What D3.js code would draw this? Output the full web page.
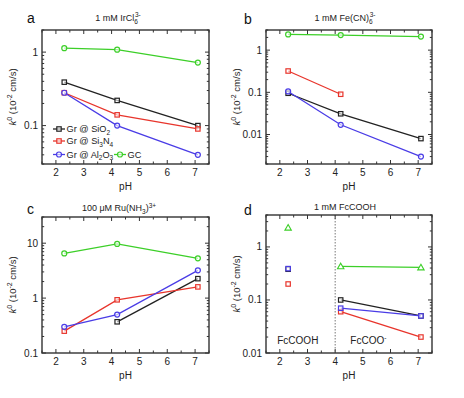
<!DOCTYPE html>
<html><head><meta charset="utf-8">
<script src="https://cdn.jsdelivr.net/npm/d3@7"></script>
<style>
body{margin:0;background:#fff;}
svg{font-family:"Liberation Sans",Arial,sans-serif;}
</style></head>
<body><svg id="c" width="464" height="398"></svg>
<script>
// ---- data ----
const pH = [2.3, 4.2, 7.1];
const seriesNames = ["Gr @ SiO2", "Gr @ Si3N4", "Gr @ Al2O3", "GC"];
const colors = ["#222222", "#e8352c", "#4a3ce6", "#3ccf28"];

// Panel a: 1 mM IrCl6 3-
const aSiO2 = [0.39, 0.22, 0.10];
const aSi3N4 = [0.28, 0.14, 0.09];
const aAl2O3 = [0.28, 0.10, 0.04];
const aGC = [1.13, 1.08, 0.72];
// Panel b: 1 mM Fe(CN)6 3-
const bSiO2 = [0.095, 0.031, 0.008];
const bSi3N4 = [0.32, 0.09, null];
const bAl2O3 = [0.105, 0.017, 0.003];
const bGC = [2.35, 2.27, 2.1];
// Panel c: 100 uM Ru(NH3)3+
const cSiO2 = [null, 0.37, 2.26];
const cSi3N4 = [0.25, 0.93, 1.6];
const cAl2O3 = [0.30, 0.50, 3.2];
const cGC = [6.5, 9.7, 5.3];
// Panel d: 1 mM FcCOOH (pH 2.3 unconnected)
const dSiO2 = [0.38, 0.10, 0.05];
const dSi3N4 = [0.20, 0.06, 0.02];
const dAl2O3 = [0.39, 0.07, 0.05];
const dGC = [2.3, 0.43, 0.41];

const xTicks = [2, 3, 4, 5, 6, 7];

const svg = d3.select("#c");

const panels = [
  {letter:"a", box:[42,209,30,164], ydom:[0.03,2], yticks:[0.1,1], title:["1 mM IrCl","6","3-",""], tx:118, ty:21, lx:27, ly:23,
   data:[aSiO2,aSi3N4,aAl2O3,aGC], shapes:["sq","sq","ci","ci"]},
  {letter:"b", box:[266,432,30,164], ydom:[0.002,3], yticks:[0.01,0.1,1], title:["1 mM Fe(CN)","6","3-",""], tx:345, ty:21, lx:244, ly:24,
   data:[bSiO2,bSi3N4,bAl2O3,bGC], shapes:["sq","sq","ci","ci"]},
  {letter:"c", box:[42,209,217,353], ydom:[0.1,30], yticks:[0.1,1,10], title:["100 μM Ru(NH","3",")","3+"], tx:119, ty:211, lx:27, ly:214,
   data:[cSiO2,cSi3N4,cAl2O3,cGC], shapes:["sq","sq","ci","ci"]},
  {letter:"d", box:[266,432,215,353], ydom:[0.01,4], yticks:[0.01,0.1,1], title:["1 mM FcCOOH","","",""], tx:345, ty:210, lx:244, ly:215,
   data:[dSiO2,dSi3N4,dAl2O3,dGC], shapes:["sq","sq","sq","tri"], split:true}
];

function marker(g, shape, x, y, col){
  if(shape==="sq"){
    g.append("rect").attr("x",x-2.2).attr("y",y-2.2).attr("width",4.4).attr("height",4.4)
      .attr("fill","#fff").attr("fill-opacity",0.6).attr("stroke",col).attr("stroke-width",1.2);
  } else if(shape==="ci"){
    g.append("circle").attr("cx",x).attr("cy",y).attr("r",2.5)
      .attr("fill","#fff").attr("fill-opacity",0.6).attr("stroke",col).attr("stroke-width",1.2);
  } else {
    const s=3.2;
    g.append("path").attr("d",`M${x},${y-s}L${x+s},${y+s*0.75}L${x-s},${y+s*0.75}Z`)
      .attr("fill","#fff").attr("stroke",col).attr("stroke-width",1.1);
  }
}

panels.forEach(p=>{
  const [L,R,T,B]=p.box;
  const x=d3.scaleLinear().domain([1.5,7.5]).range([L,R]);
  const y=d3.scaleLog().domain(p.ydom).range([B,T]);
  const g=svg.append("g");

  // minor/major ticks (inward, all four sides)
  const xMinor=d3.range(1.5,7.51,0.5);
  xMinor.forEach(v=>{
    const major=Number.isInteger(v);
    const len=major?4:2.5;
    g.append("line").attr("x1",x(v)).attr("x2",x(v)).attr("y1",B).attr("y2",B-len).attr("stroke","#333").attr("stroke-width",1);
    g.append("line").attr("x1",x(v)).attr("x2",x(v)).attr("y1",T).attr("y2",T+len).attr("stroke","#333").attr("stroke-width",1);
  });
  const [y0,y1]=p.ydom;
  for(let e=Math.floor(Math.log10(y0));e<=Math.ceil(Math.log10(y1));e++){
    for(let m=1;m<10;m++){
      const v=m*Math.pow(10,e);
      if(v<y0*0.999||v>y1*1.001) continue;
      const len=m===1?4:2.2;
      g.append("line").attr("x1",L).attr("x2",L+len).attr("y1",y(v)).attr("y2",y(v)).attr("stroke","#333").attr("stroke-width",1);
      g.append("line").attr("x1",R).attr("x2",R-len).attr("y1",y(v)).attr("y2",y(v)).attr("stroke","#333").attr("stroke-width",1);
    }
  }
  // axis labels
  xTicks.forEach(v=>{
    g.append("text").attr("x",x(v)).attr("y",B+12).attr("text-anchor","middle").attr("font-size",10).attr("fill","#222").text(v);
  });
  p.yticks.forEach(v=>{
    g.append("text").attr("x",L-4).attr("y",y(v)+3.5).attr("text-anchor","end").attr("font-size",10).attr("fill","#222").text(v);
  });
  g.append("text").attr("x",(L+R)/2).attr("y",B+26).attr("text-anchor","middle").attr("font-size",10).attr("fill","#222").text("pH");
  // y label
  const yl=g.append("text").attr("transform",`translate(${L-26},${(T+B)/2}) rotate(-90)`).attr("text-anchor","middle").attr("font-size",9.5).attr("fill","#222");
  yl.append("tspan").attr("font-style","italic").text("k");
  yl.append("tspan").attr("dy",-4).attr("font-size",7).text("0");
  yl.append("tspan").attr("dy",4).text(" (10");
  yl.append("tspan").attr("dy",-4).attr("font-size",7).text("-2");
  yl.append("tspan").attr("dy",4).text(" cm/s)");
  // title
  const tt=g.append("text").attr("x",p.tx).attr("y",p.ty).attr("text-anchor","middle").attr("font-size",9).attr("fill","#222");
  tt.append("tspan").text(p.title[0]);
  if(p.letter==="c"){
    tt.append("tspan").attr("dy",2.5).attr("font-size",6.5).text(p.title[1]);
    tt.append("tspan").attr("dy",-2.5).text(p.title[2]);
    tt.append("tspan").attr("dy",-3.5).attr("font-size",6.5).text(p.title[3]);
  } else if(p.title[1]){
    tt.append("tspan").attr("dy",2.5).attr("font-size",6.5).text(p.title[1]);
    tt.append("tspan").attr("dx",-3).attr("dy",-6.5).attr("font-size",6.5).text(p.title[2]);
  }
  // letter
  g.append("text").attr("x",p.lx).attr("y",p.ly).attr("font-size",14).attr("fill","#111").text(p.letter);

  // data
  const order=[3,0,1,2];
  order.forEach(si=>{
    const vals=p.data[si], col=colors[si];
    const pts=pH.map((v,i)=>({x:v,y:vals[i],i})).filter(d=>d.y!=null);
    const linePts=p.split?pts.filter(d=>d.i>0):pts;
    const line=d3.line().x(d=>x(d.x)).y(d=>y(d.y));
    g.append("path").attr("d",line(linePts)).attr("fill","none").attr("stroke",col).attr("stroke-width",1.3);
    pts.forEach(d=>marker(g,p.shapes[si],x(d.x),y(d.y),col));
  });

  if(p.split){
    g.append("line").attr("x1",x(4)).attr("x2",x(4)).attr("y1",T).attr("y2",B).attr("stroke","#555").attr("stroke-width",0.8).attr("stroke-dasharray","1.5,1.5");
    g.append("text").attr("x",x(2.65)).attr("y",B-9).attr("text-anchor","middle").attr("font-size",10).attr("fill","#222").text("FcCOOH");
    const t2=g.append("text").attr("x",x(5.2)).attr("y",B-9).attr("text-anchor","middle").attr("font-size",10).attr("fill","#222");
    t2.append("tspan").text("FcCOO");
    t2.append("tspan").attr("dy",-4).attr("font-size",6.5).text("-");
  }

  // box
  g.append("rect").attr("x",L).attr("y",T).attr("width",R-L).attr("height",B-T).attr("fill","none").attr("stroke","#333").attr("stroke-width",1.4);

  // legend in panel a
  if(p.letter==="a"){
    const items=[
      {si:0, lab:["Gr @ SiO","2",""], x0:53, yy:129, sh:"sq"},
      {si:1, lab:["Gr @ Si","3","N","4"], x0:53, yy:141, sh:"sq"},
      {si:2, lab:["Gr @ Al","2","O","3"], x0:53, yy:154.5, sh:"ci"},
      {si:3, lab:["GC"], x0:114, yy:154.5, sh:"ci"}
    ];
    items.forEach(it=>{
      const col=colors[it.si];
      g.append("line").attr("x1",it.x0).attr("x2",it.x0+12).attr("y1",it.yy).attr("y2",it.yy).attr("stroke",col).attr("stroke-width",1.3);
      marker(g,it.sh,it.x0+6,it.yy,col);
      const t=g.append("text").attr("x",it.x0+13.5).attr("y",it.yy+3.3).attr("font-size",9.2).attr("fill","#222");
      t.append("tspan").text(it.lab[0]);
      for(let k=1;k<it.lab.length;k++){
        if(!it.lab[k]) continue;
        if(k%2===1) t.append("tspan").attr("dy",2.5).attr("font-size",6.5).text(it.lab[k]);
        else t.append("tspan").attr("dy",-2.5).text(it.lab[k]);
      }
    });
  }
});
</script></body></html>
